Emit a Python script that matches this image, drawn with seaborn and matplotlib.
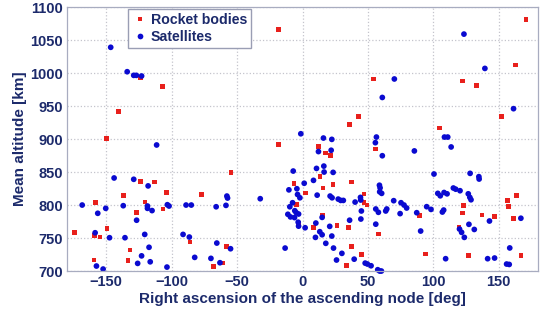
import numpy as np
import pandas as pd
import matplotlib
matplotlib.use("Agg")
import matplotlib.pyplot as plt
import seaborn as sns

# Rocket bodies: RAAN [deg], mean altitude [km]
rb_raan = [-124, -107, -140.5, -150, -18.3, -18.3, 54.4, 42.7, 35.9, 170.7, 162.9, 122.4, 132.8, 152, 104.5,
           -124, -113, -104, -137, -120.5, -158, -106.6, -127, -174.5, -159, -154.7, -149.3, -132, -159.5, -133.3,
           -54.7, -77, -6.4, 2.5, -4.6, -3, -86, -58.3, -61.3, -68.2,
           12.2, 17.8, 21.4, 55.7, 13.5, 37.4, 23.2, 15.8, 46.9, 46.9, 49.3, 89.6, 15.5, 8.4, 26.4, 35.1, 58, 37.6, 45.3, 33.6, 94.2,
           163.6, 156.7, 157.5, 123.1, 122.4, 137.2, 146.6, 161.3, 119.5, 127, 167]
rb_alt = [993, 980, 942, 901, 1066, 892, 991, 934, 922, 1081, 1012, 988, 981, 934, 917,
          836, 835, 819, 814, 804.5, 803.5, 794, 789, 758, 753.5, 751.5, 764, 732, 717, 716,
          849.5, 816, 833, 818, 801, 773, 744, 737, 712, 707,
          889, 879, 875, 885, 843, 835, 831, 826, 817, 804, 800, 784, 785, 766, 769, 766, 756, 737, 725, 708, 726,
          814, 807, 797.5, 799, 788, 785, 783, 780, 767, 724, 724]

# Satellites: RAAN [deg], mean altitude [km]
sat_raan = [-146.6, -134, -129, -127, -123, -111.5, -1.3, 70.2, 61, 16, 22.4, 56.5, 55.7, 123.4, 139.4, 161.3, 108.5, 111,
            -144, -129, -118, -168.4, -137, -118.5, -103.3, -102, -89, -150.4, -118.5, -115, -156.5, -126.8, -158.5,
            -147.5, -135.7, -120.6, -91.3, -86.5, -117.3, -123, -116.4, -126, -157.5, -152.4, -103.6,
            -7.1, -57.8, -57.3, -32.3, 1.3, -10.4, -4.3, -3.8, -2, -7.6, -9.7, -5.9, -4.8, -3, -11.2, -9.2, -6.1,
            -3.3, -3, 2, -85, -66, -58.5, -65.5, -55, -13.3, -82.4, -70, -63.1,
            12.2, 21.9, 61, 85.5, 10.7, 16.3, 16.5, 23.4, 8.4, 58.8, 59.3, 59, 60.5, 11.2, 21.1, 22.6, 27.3, 29.2,
            31.2, 40.2, 44.3, 44.5, 69.7, 75.3, 77.6, 79.6, 56, 64.4, 63.6, 58, 45, 74.6, 87.3, 15, 44.6, 36, 10.2,
            20.8, 56, 13.2, 15, 9.9, 22.4, 17.8, 23.7, 30.1, 26, 39.5, 47.9, 49.6, 52.4, 57.5, 59, 60.3,
            113.6, 100.5, 128.1, 134.8, 135, 115.3, 117.1, 120.4, 103.4, 105.3, 108.2, 110.5, 126.7, 127.9, 128.8,
            94.9, 98.2, 107.9, 106.9, 166.9, 142.9, 127.2, 120, 131.3, 121.6, 123.7, 90.3, 158.4, 109.4, 141.5,
            146.8, 156, 158]
sat_alt = [1039, 1002, 996.5, 996.5, 995.5, 891, 908, 991, 963, 901.5, 899.5, 903, 894.5, 1059, 1007, 946, 903, 903,
           841, 839, 829, 800, 799, 798.5, 800.5, 798.5, 800, 795, 795, 791.6, 787.5, 777, 758,
           750.5, 750.5, 755.5, 755.5, 751.5, 736, 723, 714, 711.6, 707.6, 703, 706,
           851.5, 813.6, 810.6, 809.6, 833, 823, 824.7, 816, 811, 803.5, 797.4, 791.4, 788.4, 786.4, 786, 782, 781,
           774, 768, 765.6, 800, 797.4, 799.5, 742.4, 733.8, 734.8, 720.7, 719.2, 712.6,
           881, 883, 874.7, 882, 855.5, 859, 850, 849.5, 837.4, 830, 826, 820, 817.7, 815, 813.6, 811, 809, 807,
           807, 804.5, 811.6, 807.6, 806.6, 803.5, 800, 795.5, 794, 794, 791, 789, 791, 787, 788.4, 781.3, 778.8, 777, 772.7,
           767.7, 771, 759.6, 755, 751, 753, 742, 734.8, 726.8, 716.7, 718, 712, 710.6, 708, 702, 700, 700,
           888, 847, 848, 843, 839.4, 825.8, 824, 821.7, 817.7, 814, 819, 817, 817, 811.6, 808,
           797.5, 793.4, 792.4, 789.4, 780, 775.8, 770.8, 763.6, 763, 758.6, 751, 760.6, 735, 718.7, 718.7,
           719.7, 710.6, 710]

x_ticks = [-150, -100, -50, 0, 50, 100, 150]
y_ticks = [700, 750, 800, 850, 900, 950, 1000, 1050, 1100]

df = pd.concat([
    pd.DataFrame({"raan": rb_raan, "alt": rb_alt, "type": "Rocket bodies"}),
    pd.DataFrame({"raan": sat_raan, "alt": sat_alt, "type": "Satellites"}),
], ignore_index=True)

sns.set_style("white")
plt.rcParams["font.family"] = ["Liberation Sans", "DejaVu Sans"]
navy = "#1c2a6b"

fig = plt.figure(figsize=(5.43, 3.2), dpi=100)
ax = fig.add_axes([0.1234, 0.153, 0.8674, 0.825])

sns.scatterplot(data=df, x="raan", y="alt", hue="type", style="type",
                palette={"Rocket bodies": "#e8201c", "Satellites": "#0a0ad0"},
                markers={"Rocket bodies": "s", "Satellites": "o"},
                size="type", sizes={"Rocket bodies": 11, "Satellites": 17},
                linewidth=0, ax=ax, legend=True)
for c in ax.collections:
    c.set_clip_on(False)

ax.set_xlim(-180, 180)
ax.set_ylim(700, 1100)
ax.set_xticks(x_ticks)
ax.set_yticks(y_ticks)
ax.grid(True, color="#c4c4cc", linestyle=":", linewidth=0.9)
for s in ax.spines.values():
    s.set_color("#a8acc0")
    s.set_linewidth(0.9)
ax.tick_params(axis="both", direction="in", length=3, color="#a8acc0",
               labelsize=10.5, labelcolor=navy, pad=3)
for lab in ax.get_xticklabels() + ax.get_yticklabels():
    lab.set_fontweight("bold")
ax.set_xlabel("Right ascension of the ascending node [deg]", fontsize=11,
              fontweight="bold", color=navy, labelpad=2)
ax.set_ylabel("Mean altitude [km]", fontsize=11, fontweight="bold", color=navy, labelpad=2)

handles, labels = ax.get_legend_handles_labels()
seen = {}
for h, l in zip(handles, labels):
    if l in ("Rocket bodies", "Satellites"):
        seen.setdefault(l, h)
leg = ax.legend([seen["Rocket bodies"], seen["Satellites"]], ["Rocket bodies", "Satellites"],
                loc="upper left", bbox_to_anchor=(0.1295, 0.992), borderaxespad=0,
                fancybox=False, framealpha=1, edgecolor="#9a9eb4",
                prop={"weight": "bold", "size": 10.2}, handletextpad=0.2,
                handlelength=1.1, borderpad=0.3, labelspacing=0.2, markerscale=1.0)
for t in leg.get_texts():
    t.set_color(navy)

fig.savefig("out.png", dpi=100)
